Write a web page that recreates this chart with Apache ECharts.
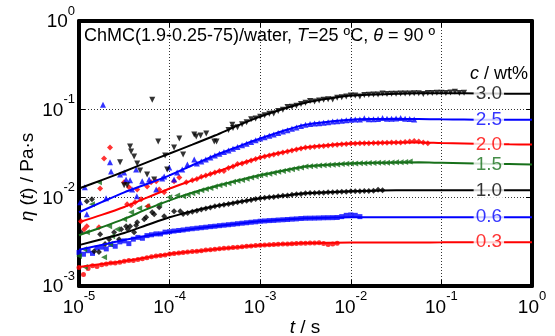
<!DOCTYPE html>
<html>
<head>
<meta charset="utf-8">
<script src="https://cdn.jsdelivr.net/npm/echarts@6/dist/echarts.min.js"></script>
<style>
html, body { margin: 0; padding: 0; background: #fff; }
#chart { width: 555px; height: 336px; }
</style>
</head>
<body>
<div id="chart"></div>
<script>
// shared sampling times of the dense data (s)
var tGrid = [
    1.00e-5, 1.12e-5, 1.26e-5, 1.41e-5, 1.58e-5, 1.78e-5, 2.00e-5, 2.24e-5, 2.51e-5, 2.82e-5,
    3.16e-5, 3.55e-5, 3.98e-5, 4.47e-5, 5.01e-5, 5.62e-5, 6.31e-5, 7.08e-5, 7.94e-5, 8.91e-5,
    1.00e-4, 1.12e-4, 1.26e-4, 1.41e-4, 1.58e-4, 1.78e-4, 2.00e-4, 2.24e-4, 2.51e-4, 2.82e-4,
    3.16e-4, 3.55e-4, 3.98e-4, 4.47e-4, 5.01e-4, 5.62e-4, 6.31e-4, 7.08e-4, 7.94e-4, 8.91e-4,
    1.00e-3, 1.12e-3, 1.26e-3, 1.41e-3, 1.58e-3, 1.78e-3, 2.00e-3, 2.24e-3, 2.51e-3, 2.82e-3,
    3.16e-3, 3.55e-3, 3.98e-3, 4.47e-3, 5.01e-3, 5.62e-3, 6.31e-3, 7.08e-3, 7.94e-3, 8.91e-3,
    1.00e-2, 1.12e-2, 1.26e-2, 1.41e-2, 1.58e-2, 1.78e-2, 2.00e-2, 2.24e-2, 2.51e-2, 2.82e-2,
    3.16e-2, 3.55e-2, 3.98e-2, 4.47e-2, 5.01e-2, 5.62e-2, 6.31e-2, 7.08e-2, 7.94e-2, 8.91e-2,
    1.00e-1, 1.12e-1, 1.26e-1, 1.41e-1, 1.58e-1, 1.78e-1
];

// c = 3.0 wt%
var early30T = [2.84e-5, 3.15e-5, 3.40e-5, 3.66e-5, 3.76e-5, 4.06e-5, 4.39e-5, 4.73e-5, 5.65e-5, 6.43e-5,
    6.76e-5, 7.48e-5, 8.93e-5, 9.40e-5, 1.12e-4, 1.28e-4, 1.41e-4, 1.87e-4, 1.97e-4, 2.20e-4,
    2.54e-4, 3.11e-4, 3.30e-4, 4.92e-4];
var early30 = [0.0251, 0.0138, 0.0138, 0.0379, 0.0333, 0.0292, 0.0244, 0.0203, 0.0183, 0.1285,
    0.0161, 0.0432, 0.0300, 0.0209, 0.0370, 0.0467, 0.0308, 0.0518, 0.0492, 0.0506,
    0.0532, 0.0432, 0.0432, 0.0671];
var off30 = 33;
var dense30 = [0.0585, 0.0614, 0.0625, 0.0678, 0.0713, 0.0770, 0.0787, 0.0826,
    0.0857, 0.0889, 0.0895, 0.0955, 0.0991, 0.106, 0.107, 0.110, 0.115, 0.119,
    0.124, 0.123, 0.126, 0.128, 0.130, 0.129, 0.135, 0.137, 0.140, 0.143,
    0.143, 0.140, 0.145, 0.146, 0.147, 0.147, 0.151, 0.149, 0.150, 0.150,
    0.151, 0.151, 0.151, 0.152, 0.152, 0.149, 0.153, 0.153, 0.154, 0.154,
    0.153, 0.155, 0.158, 0.153, 0.154];

// c = 2.5 wt%
var early25T = [1.03e-5, 1.16e-5, 1.22e-5, 1.84e-5, 1.99e-5, 2.20e-5, 2.26e-5, 2.84e-5, 3.15e-5, 3.31e-5,
    3.66e-5, 3.86e-5, 4.27e-5, 4.35e-5, 4.98e-5, 5.94e-5, 7.11e-5, 8.28e-5, 8.71e-5, 9.91e-5,
    1.12e-4, 1.21e-4, 1.38e-4, 1.57e-4, 1.87e-4];
var early25 = [0.00886, 0.0131, 0.00649, 0.113, 0.00984, 0.0251, 0.0198, 0.0183, 0.0193, 0.0161,
    0.0157, 0.0124, 0.0209, 0.0104, 0.0153, 0.0161, 0.0124, 0.0165, 0.0174, 0.0220,
    0.0161, 0.0193, 0.0209, 0.0238, 0.0270];
var off25 = 26;
var dense25 = [0.0244, 0.0257, 0.0271, 0.0285, 0.0301,
    0.0314, 0.0328, 0.0343, 0.0358, 0.0374, 0.0392, 0.0409, 0.0428, 0.0447, 0.0467,
    0.0484, 0.0502, 0.0520, 0.0540, 0.0560, 0.0581, 0.0603, 0.0624, 0.0647, 0.0671,
    0.0681, 0.0689, 0.0698, 0.0706, 0.0716, 0.0726, 0.0735, 0.0745, 0.0753, 0.0764,
    0.0766, 0.0767, 0.0795, 0.0773, 0.0774, 0.0776, 0.0800, 0.0782, 0.0783, 0.0785,
    0.0800, 0.0782, 0.0776, 0.0767];

// c = 2.0 wt%
var early20T = [1.05e-5, 1.14e-5, 1.22e-5, 1.66e-5, 1.71e-5, 1.89e-5, 2.20e-5, 3.15e-5, 3.40e-5, 3.57e-5,
    3.76e-5, 4.16e-5, 4.39e-5, 4.85e-5, 5.65e-5, 5.80e-5, 6.25e-5, 7.11e-5, 7.67e-5, 8.71e-5,
    1.12e-4, 1.28e-4, 1.53e-4];
var early20 = [0.0054, 0.0044, 0.00475, 0.00463, 0.0127, 0.0278, 0.0370, 0.0149, 0.00841, 0.0131,
    0.0082, 0.00886, 0.0124, 0.00958, 0.0134, 0.00798, 0.0149, 0.0153, 0.0124, 0.0115,
    0.0153, 0.0169, 0.0149];
var off20 = 25;
var dense20 = [0.0157, 0.0163, 0.0172, 0.0178, 0.0185, 0.0193,
    0.0201, 0.0200, 0.0217, 0.0226, 0.0240, 0.0244, 0.0254, 0.0264, 0.0274, 0.0285,
    0.0292, 0.0301, 0.0308, 0.0316, 0.0324, 0.0333, 0.0342, 0.0351, 0.0361, 0.0370,
    0.0373, 0.0378, 0.0381, 0.0385, 0.0389, 0.0394, 0.0397, 0.0402, 0.0406, 0.0410,
    0.0411, 0.0412, 0.0413, 0.0414, 0.0415, 0.0417, 0.0418, 0.0419, 0.0420, 0.0421,
    0.0421, 0.0427, 0.0432, 0.0437, 0.0432, 0.0422, 0.0412];

// c = 1.5 wt%
var early15T = [1.00e-5, 1.14e-5, 1.16e-5, 1.22e-5, 1.39e-5, 1.66e-5, 1.89e-5, 2.15e-5, 2.20e-5, 2.32e-5,
    2.63e-5, 3.15e-5, 3.76e-5, 4.62e-5, 5.65e-5, 7.67e-5, 9.91e-5, 1.21e-4];
var early15 = [0.00218, 0.00261, 0.00164, 0.00406, 0.00841, 0.0149, 0.00212, 0.00475, 0.00298, 0.00366,
    0.0044, 0.0057, 0.00684, 0.00759, 0.00798, 0.00841, 0.0101, 0.0106];
var off15 = 23;
var dense15 = [0.0104, 0.0108, 0.0112, 0.0116, 0.0121, 0.0125, 0.0129, 0.0134,
    0.0138, 0.0142, 0.0146, 0.0151, 0.0155, 0.0159, 0.0164, 0.0169, 0.0174, 0.0179,
    0.0183, 0.0187, 0.0191, 0.0196, 0.0200, 0.0206, 0.0210, 0.0215, 0.0220, 0.0225,
    0.0227, 0.0229, 0.0231, 0.0233, 0.0234, 0.0236, 0.0238, 0.0240, 0.0242, 0.0244,
    0.0244, 0.0245, 0.0246, 0.0247, 0.0247, 0.0248, 0.0248, 0.0249, 0.0250, 0.0251,
    0.0252, 0.0254, 0.0256];

// c = 1.0 wt%
var early10T = [1.05e-5, 1.22e-5, 1.39e-5, 1.47e-5, 1.66e-5, 1.71e-5, 1.94e-5, 2.15e-5, 2.44e-5, 2.77e-5,
    2.92e-5, 3.31e-5, 3.45e-5, 3.66e-5, 4.06e-5, 4.27e-5, 4.39e-5, 5.24e-5, 5.51e-5, 6.42e-5,
    6.76e-5, 7.67e-5, 8.71e-5, 1.12e-4, 1.31e-4];
var early10 = [0.00406, 0.0091, 0.00958, 0.00248, 0.00242, 0.00386, 0.00298, 0.00339, 0.00406, 0.00339,
    0.0044, 0.00475, 0.0044, 0.00475, 0.00406, 0.00488, 0.00527, 0.0057, 0.0060, 0.00684,
    0.00649, 0.00778, 0.00616, 0.00702, 0.00702];
var off10 = 23;
var dense10 = [0.00653, 0.00671, 0.00692, 0.00711, 0.00733, 0.00753, 0.00776, 0.00798,
    0.00815, 0.00832, 0.00849, 0.00867, 0.00885, 0.00906, 0.00925, 0.00944, 0.00964, 0.00984,
    0.00998, 0.0101, 0.0102, 0.0104, 0.0105, 0.0106, 0.0108, 0.0109, 0.0110, 0.0112,
    0.0113, 0.0113, 0.0114, 0.0114, 0.0115, 0.0115, 0.0116, 0.0117, 0.0117, 0.0118,
    0.0118, 0.0118, 0.0119, 0.0119, 0.0120, 0.0123, 0.0121];

// c = 0.6 wt%
var off06 = 0;
var dense06 = [0.00240, 0.00229, 0.00251, 0.00234, 0.00269, 0.00275, 0.00263, 0.00295, 0.00282, 0.00316,
    0.00324, 0.00302, 0.00339, 0.00355, 0.00347, 0.00372, 0.00380, 0.00389, 0.00389, 0.00407, 0.00412,
    0.00419, 0.00425, 0.00431, 0.00439, 0.00445, 0.00451, 0.00457, 0.00463, 0.00470, 0.00475,
    0.00482, 0.00488, 0.00494, 0.00500, 0.00507, 0.00514, 0.00520, 0.00527, 0.00533, 0.00541,
    0.00545, 0.00550, 0.00553, 0.00558, 0.00562, 0.00566, 0.00571, 0.00575, 0.00581, 0.00585,
    0.00586, 0.00587, 0.00589, 0.00592, 0.00593, 0.00594, 0.00596, 0.00610, 0.00631, 0.00638, 0.00631, 0.00610];

// c = 0.3 wt%
var off03 = 0;
var dense03 = [0.00162, 0.00135, 0.00158, 0.00170, 0.00166, 0.00174, 0.00178, 0.00182, 0.00182, 0.00186,
    0.00191, 0.00195, 0.00195, 0.00200, 0.00204, 0.00209, 0.00214, 0.00219, 0.00221, 0.00225, 0.00230,
    0.00233, 0.00236, 0.00239, 0.00242, 0.00245, 0.00248, 0.00251, 0.00255, 0.00258, 0.00261,
    0.00264, 0.00267, 0.00270, 0.00272, 0.00275, 0.00279, 0.00281, 0.00284, 0.00287, 0.00290,
    0.00292, 0.00293, 0.00295, 0.00296, 0.00298, 0.00299, 0.00301, 0.00303, 0.00304, 0.00305,
    0.00306, 0.00307, 0.00308, 0.00302, 0.00295, 0.00299, 0.00305];

// fitted curves, read every quarter decade
var fitT = [1e-5, 1.78e-5, 3.16e-5, 5.62e-5, 1e-4, 1.78e-4, 3.16e-4, 5.62e-4, 1e-3, 1.78e-3, 3.16e-3,
    5.62e-3, 1e-2, 1.78e-2, 3.16e-2, 5.62e-2, 0.1, 0.178, 0.316, 0.562, 1];
var fit30 = [0.0127, 0.0158, 0.0198, 0.0251, 0.0316, 0.0398, 0.0505, 0.0653, 0.0826, 0.101, 0.119,
    0.132, 0.143, 0.147, 0.150, 0.152, 0.152, 0.152, 0.151, 0.150, 0.150];
var fit25 = [0.00684, 0.00891, 0.0115, 0.0143, 0.0179, 0.0233, 0.0300, 0.0376, 0.0467, 0.0569, 0.0671,
    0.0724, 0.0764, 0.0776, 0.0780, 0.0776, 0.0770, 0.0766, 0.0764, 0.0764, 0.0764];
var fit20 = [0.00527, 0.00638, 0.00785, 0.0100, 0.0127, 0.0157, 0.0193, 0.0236, 0.0285, 0.0327, 0.0370,
    0.0393, 0.0410, 0.0416, 0.0421, 0.0421, 0.0415, 0.0410, 0.0405, 0.0402, 0.0400];
var fit15 = [0.00376, 0.00462, 0.00575, 0.00741, 0.00933, 0.0114, 0.0134, 0.0156, 0.0179, 0.0202, 0.0225,
    0.0236, 0.0244, 0.0248, 0.0250, 0.0251, 0.0248, 0.0245, 0.0242, 0.0240, 0.0238];
var fit10 = [0.0029, 0.00339, 0.00398, 0.00490, 0.0060, 0.00703, 0.00798, 0.00889, 0.00984, 0.0105, 0.0112,
    0.0115, 0.0118, 0.0120, 0.0121, 0.0121, 0.0121, 0.0121, 0.0121, 0.0121, 0.0121];
var fit06 = [0.00257, 0.00292, 0.00331, 0.00370, 0.00407, 0.00443, 0.00475, 0.00508, 0.0054, 0.00564, 0.00585,
    0.00594, 0.0060, 0.0060, 0.0060, 0.0060, 0.0060, 0.0060, 0.0060, 0.0060, 0.0060];
var fit03 = [0.00164, 0.00177, 0.00191, 0.00210, 0.0023, 0.00245, 0.00261, 0.00275, 0.0029, 0.00298, 0.00306,
    0.00308, 0.0031, 0.0031, 0.0031, 0.00311, 0.00312, 0.00313, 0.00313, 0.00313, 0.00313];

// concentration labels on the right
var labT = 0.334;
var labText = ['3.0', '2.5', '2.0', '1.5', '1.0', '0.6', '0.3'];
var labVals = [0.150, 0.0764, 0.0400, 0.0238, 0.0121, 0.0060, 0.00313];

var BLACK = '#000000', BLUE = '#0000ff', RED = '#ff0000', GREEN = '#17701a';
var labColors = [BLACK, BLUE, RED, GREEN, BLACK, BLUE, RED];
var FONT = '"Liberation Sans", Arial, sans-serif';

function pairs(ts, vs) {
    return vs.map(function (v, i) { return [ts[i], v]; });
}
function gridPairs(off, vs) {
    return vs.map(function (v, i) { return [tGrid[off + i], v]; });
}

function marks(name, data, color, symbol, size, rot) {
    return {
        name: name, type: 'scatter', data: data, symbol: symbol, symbolSize: size,
        symbolRotate: rot || 0, itemStyle: { color: color }, z: 2, silent: true
    };
}
function fit(name, vs, color) {
    return {
        name: name + ' fit', type: 'line', data: pairs(fitT, vs), showSymbol: false,
        smooth: 0.3, lineStyle: { color: color, width: 2 }, z: 3, silent: true
    };
}

// 10 with a raised exponent
var expRich = {
    a: { fontSize: 19, fontFamily: FONT, color: '#000', lineHeight: 27, verticalAlign: 'bottom' },
    b: { fontSize: 13, fontFamily: FONT, color: '#000', lineHeight: 14, verticalAlign: 'top' }
};
function expLabel(v) {
    return '{a|10}{b|' + Math.round(Math.log10(v)) + '}';
}

function axis(kind, pos, main) {
    return {
        type: 'log', logBase: 10, position: pos,
        min: kind === 'x' ? 1e-5 : 1e-3, max: 1, splitNumber: kind === 'x' ? 5 : 3,
        axisLine: { show: true, lineStyle: { color: '#000', width: 4 } },
        axisTick: { show: true, inside: true, length: 6, lineStyle: { color: '#000', width: 1 } },
        axisLabel: {
            show: main, margin: 4, formatter: expLabel, rich: expRich,
            padding: kind === 'y' ? [0, 0, 6, 0] : 0
        },
        splitLine: { show: main, lineStyle: { color: '#333', type: [1, 2], width: 1 } },
        minorTick: { show: false }
    };
}

var chart = echarts.init(document.getElementById('chart'), null, { renderer: 'canvas' });

chart.setOption({
    animation: false,
    backgroundColor: '#fff',
    grid: { left: 79, right: 23, top: 21, bottom: 50 },
    xAxis: [axis('x', 'bottom', true), axis('x', 'top', false)],
    yAxis: [axis('y', 'left', true), axis('y', 'right', false)],
    series: [
        marks('0.3', gridPairs(off03, dense03), RED, 'circle', 5),
        marks('0.6', gridPairs(off06, dense06), BLUE, 'rect', 5),
        marks('1.0', pairs(early10T, early10).concat(gridPairs(off10, dense10)), BLACK, 'diamond', 6),
        marks('1.5', pairs(early15T, early15).concat(gridPairs(off15, dense15)), GREEN, 'triangle', 6, 90),
        marks('2.0', pairs(early20T, early20).concat(gridPairs(off20, dense20)), RED, 'diamond', 6),
        marks('2.5', pairs(early25T, early25).concat(gridPairs(off25, dense25)), BLUE, 'triangle', 6),
        marks('3.0', pairs(early30T, early30).concat(gridPairs(off30, dense30)), BLACK, 'triangle', 6, 180),
        fit('0.3', fit03, RED),
        fit('0.6', fit06, BLUE),
        fit('1.0', fit10, BLACK),
        fit('1.5', fit15, GREEN),
        fit('2.0', fit20, RED),
        fit('2.5', fit25, BLUE),
        fit('3.0', fit30, BLACK),
        {
            name: 'labels', type: 'scatter', symbolSize: 1, z: 6, silent: true,
            itemStyle: { color: 'rgba(0,0,0,0)' },
            label: {
                show: true, position: 'inside', fontSize: 19, fontFamily: FONT,
                backgroundColor: '#fff', padding: [0, 2]
            },
            data: labVals.map(function (v, i) {
                return {
                    value: [labT, v],
                    label: { color: labColors[i], formatter: labText[i] }
                };
            })
        }
    ],
    graphic: [
        {
            type: 'text', left: 84, top: 27, z: 10,
            style: {
                text: '{n|ChMC(1.9-0.25-75)/water, }{i|T}{n|=25 ºC, }{i|θ}{n| = 90 º}',
                rich: {
                    n: { fontSize: 18, fontFamily: FONT, fill: '#000' },
                    i: { fontSize: 18, fontFamily: FONT, fontStyle: 'italic', fill: '#000' }
                }
            }
        },
        {
            type: 'text', x: 528, y: 74, z: 10,
            style: {
                text: '{i|c}{n| / wt%}', align: 'right', verticalAlign: 'middle',
                rich: {
                    n: { fontSize: 18, fontFamily: FONT, fill: '#000' },
                    i: { fontSize: 18, fontFamily: FONT, fontStyle: 'italic', fill: '#000' }
                }
            }
        },
        {
            type: 'text', x: 305, y: 328, z: 10,
            style: {
                text: '{i|t}{n| / s}', align: 'center', verticalAlign: 'middle',
                rich: {
                    n: { fontSize: 19, fontFamily: FONT, fill: '#000' },
                    i: { fontSize: 19, fontFamily: FONT, fontStyle: 'italic', fill: '#000' }
                }
            }
        },
        {
            type: 'text', x: 28, y: 177, rotation: Math.PI / 2, z: 10,
            style: {
                text: '{i|η}{n| (}{i|t}{n|) / Pa·s}', align: 'center', verticalAlign: 'middle',
                rich: {
                    n: { fontSize: 19, fontFamily: FONT, fill: '#000' },
                    i: { fontSize: 19, fontFamily: FONT, fontStyle: 'italic', fill: '#000' }
                }
            }
        }
    ]
});
</script>
</body>
</html>
